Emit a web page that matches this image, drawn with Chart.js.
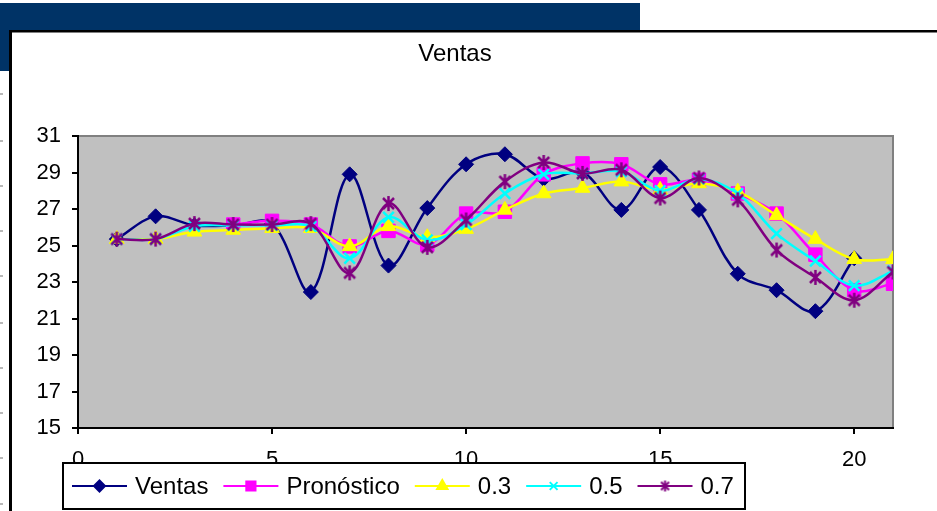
<!DOCTYPE html>
<html>
<head>
<meta charset="utf-8">
<script src="https://cdn.jsdelivr.net/npm/chart.js@4/dist/chart.umd.min.js"></script>
<style>
  html, body { margin: 0; padding: 0; background: #fff; overflow: hidden; }
  canvas { display: block; }
</style>
</head>
<body>
<canvas id="c" width="937" height="511"></canvas>
<script>
// Periods and series
const periods = [1, 2, 3, 4, 5, 6, 7, 8, 9, 10, 11, 12, 13, 14, 15, 16, 17, 18, 19, 20, 21];
const ventas = [25.35, 26.6, 26.1, 26.1, 26.2, 22.45, 28.9, 23.9, 27.05, 29.45, 30.0, 28.65, 29.0, 26.95, 29.3, 26.95, 23.45, 22.55, 21.4, 24.3, null];
const pronostico = [null, null, null, 26.15, 26.35, 26.15, 24.95, 25.8, 25.05, 26.75, 26.85, 28.9, 29.5, 29.45, 28.35, 28.6, 27.85, 26.75, 24.5, 22.55, 22.9];
const alfa03 = [25.35, 25.35, 25.75, 25.85, 25.95, 25.95, 24.95, 26.05, 25.45, 25.9, 26.95, 27.85, 28.15, 28.5, 28.05, 28.4, 27.95, 26.65, 25.35, 24.25, 24.25];
const alfa05 = [25.35, 25.35, 26.05, 26.1, 26.1, 26.05, 24.3, 26.55, 25.3, 26.15, 27.85, 28.9, 28.95, 29.05, 28.0, 28.65, 27.85, 25.65, 24.15, 22.8, 23.6];
const alfa07 = [25.35, 25.35, 26.2, 26.15, 26.15, 26.2, 23.5, 27.3, 24.9, 26.4, 28.5, 29.55, 28.95, 29.15, 27.6, 28.7, 27.5, 24.75, 23.25, 22.0, 23.55];
const seriesNames = ['Ventas', 'Pronóstico', '0.3', '0.5', '0.7'];
const xTicks = [0, 5, 10, 15, 20];
const yTicks = [15, 17, 19, 21, 23, 25, 27, 29, 31];
const chartTitle = 'Ventas';

const FONT = '"Liberation Sans", Arial, sans-serif';

// Asterisk marker (vertical bar plus two diagonals)
function asteriskMarker(color, size, r, d, lw) {
  const c = document.createElement('canvas');
  c.width = size; c.height = size;
  const g = c.getContext('2d');
  g.strokeStyle = color;
  g.lineWidth = lw;
  const m = size / 2;
  g.beginPath();
  g.moveTo(m, m - r); g.lineTo(m, m + r);
  g.moveTo(m - d, m - d); g.lineTo(m + d, m + d);
  g.moveTo(m + d, m - d); g.lineTo(m - d, m + d);
  g.stroke();
  return c;
}

const toPoints = vals => periods.map((p, i) => ({ x: p, y: vals[i] }));

const styles = [
  { color: '#000080', pointStyle: 'rectRot', radius: 7.5, pbw: 1, legendRadius: 5.5 },
  { color: '#FF00FF', pointStyle: 'rect', radius: 9.5, pbw: 1, legendRadius: 6.5 },
  { color: '#FFFF00', pointStyle: 'triangle', radius: 8.5, pbw: 1, legendRadius: 6 },
  { color: '#00FFFF', pointStyle: 'crossRot', radius: 7.5, pbw: 2.5, legendRadius: 5.5 },
  { color: '#800080', pointStyle: asteriskMarker('#800080', 17, 7.5, 5.5, 2.5), radius: 7, pbw: 1,
    legendRadius: 5, legendImg: asteriskMarker('#800080', 13, 5.5, 4, 2) }
];
const seriesValues = [ventas, pronostico, alfa03, alfa05, alfa07];

const datasets = seriesValues.map((vals, i) => ({
  label: seriesNames[i],
  data: toPoints(vals),
  borderColor: styles[i].color,
  backgroundColor: styles[i].color,
  pointBackgroundColor: styles[i].color,
  pointBorderColor: styles[i].color,
  pointStyle: styles[i].pointStyle,
  pointRadius: styles[i].radius,
  pointBorderWidth: styles[i].pbw,
  borderWidth: 2.5,
  tension: 0.35,
  fill: false,
  spanGaps: false,
  order: seriesNames.length - i
}));

// Slide background, chart frame and plot area fill
const framePlugin = {
  id: 'frame',
  beforeDraw(chart) {
    const ctx = chart.ctx;
    const a = chart.chartArea;
    ctx.save();
    ctx.fillStyle = '#ffffff';
    ctx.fillRect(0, 0, chart.width, chart.height);
    // dark header band
    ctx.fillStyle = '#003366';
    ctx.fillRect(0, 3, 640, 68);
    // white chart frame with black top/left edges
    ctx.fillStyle = '#ffffff';
    ctx.fillRect(9, 30, chart.width - 9, chart.height - 30);
    ctx.fillStyle = '#000000';
    ctx.fillRect(9, 30, 3, chart.height - 30);
    ctx.fillRect(9, 30, chart.width - 9, 2.5);
    // faint marks along the slide's left edge
    ctx.fillStyle = '#b8b8b8';
    [93, 140, 185, 230, 275, 322, 367, 412, 457, 503].forEach(y => ctx.fillRect(0, y, 3, 2));
    // plot area
    ctx.fillStyle = '#C0C0C0';
    ctx.fillRect(a.left, a.top, a.right - a.left, a.bottom - a.top);
    ctx.strokeStyle = '#808080';
    ctx.lineWidth = 2;
    ctx.beginPath();
    ctx.moveTo(a.left, a.top);
    ctx.lineTo(a.right, a.top);
    ctx.lineTo(a.right, a.bottom);
    ctx.stroke();
    ctx.restore();
  },
  afterDraw(chart) {
    const ctx = chart.ctx;
    ctx.save();
    // title
    ctx.fillStyle = '#000';
    ctx.font = '24px ' + FONT;
    ctx.textAlign = 'center';
    ctx.textBaseline = 'middle';
    ctx.fillText(chartTitle, 455, 54);

    // legend box
    const bx = 63, by = 463, bw = 682, bh = 46;
    ctx.fillStyle = '#fff';
    ctx.fillRect(bx, by, bw, bh);
    ctx.strokeStyle = '#000';
    ctx.lineWidth = 2;
    ctx.strokeRect(bx, by, bw, bh);

    ctx.font = '24px ' + FONT;
    ctx.textAlign = 'left';
    ctx.textBaseline = 'middle';
    const cy = by + bh / 2;
    let x = 72;
    chart.data.datasets.forEach((ds, i) => {
      const st = styles[i];
      ctx.strokeStyle = st.color;
      ctx.lineWidth = 2;
      ctx.beginPath();
      ctx.moveTo(x, cy);
      ctx.lineTo(x + 55, cy);
      ctx.stroke();
      ctx.fillStyle = st.color;
      ctx.strokeStyle = st.color;
      Chart.helpers.drawPoint(ctx, {
        pointStyle: st.legendImg || st.pointStyle,
        radius: st.legendRadius,
        rotation: 0,
        borderWidth: Math.min(st.pbw, 2)
      }, x + 27.5, cy);
      ctx.fillStyle = '#000';
      ctx.fillText(ds.label, x + 63, cy + 1);
      x += 63 + ctx.measureText(ds.label).width + 15;
    });
    ctx.restore();
  }
};

new Chart(document.getElementById('c'), {
  type: 'line',
  data: { datasets },
  options: {
    responsive: false,
    animation: false,
    devicePixelRatio: 1,
    events: [],
    layout: { padding: { top: 136, right: 44, bottom: 43, left: 0 } },
    plugins: {
      legend: { display: false },
      title: { display: false },
      tooltip: { enabled: false }
    },
    scales: {
      x: {
        type: 'linear',
        position: 'bottom',
        min: 0,
        max: periods[periods.length - 1],
        afterBuildTicks(scale) { scale.ticks = xTicks.map(v => ({ value: v })); },
        afterFit(scale) { scale.height = 40; },
        ticks: {
          color: '#000',
          font: { family: FONT, size: 22 },
          padding: 13,
          maxRotation: 0,
          autoSkip: false
        },
        grid: { drawOnChartArea: false, drawTicks: true, tickLength: 6, color: '#000', lineWidth: 2 },
        border: { display: true, color: '#000', width: 2 }
      },
      y: {
        type: 'linear',
        position: 'left',
        min: yTicks[0],
        max: yTicks[yTicks.length - 1],
        afterBuildTicks(scale) { scale.ticks = yTicks.map(v => ({ value: v })); },
        afterFit(scale) { scale.width = 78; },
        ticks: {
          color: '#000',
          font: { family: FONT, size: 22 },
          padding: 11,
          autoSkip: false
        },
        grid: { drawOnChartArea: false, drawTicks: true, tickLength: 6, color: '#000', lineWidth: 2 },
        border: { display: true, color: '#000', width: 2 }
      }
    }
  },
  plugins: [framePlugin]
});
</script>
</body>
</html>
